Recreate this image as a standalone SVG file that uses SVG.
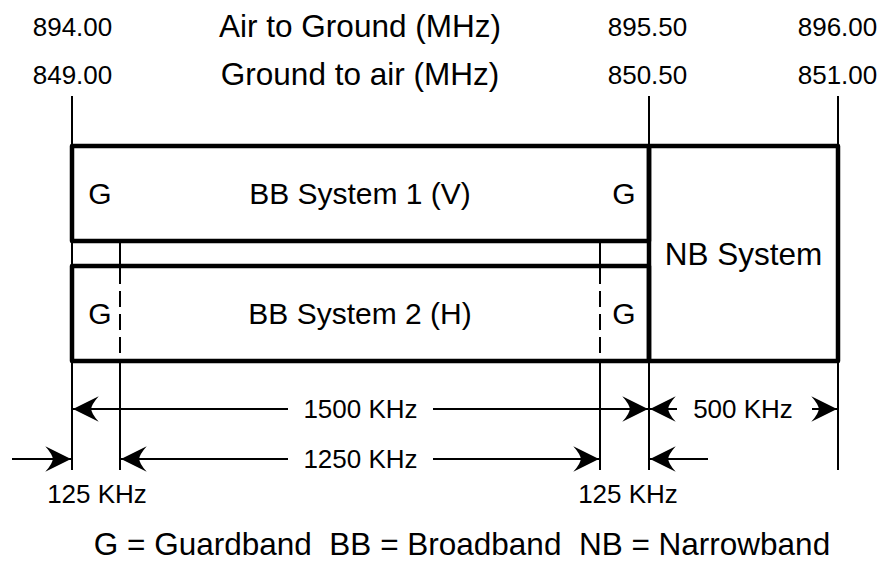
<svg xmlns="http://www.w3.org/2000/svg" width="883" height="566" viewBox="0 0 883 566">
<style>
text{font-family:"Liberation Sans",Arial,sans-serif;fill:#000}
.num{font-size:26px;text-anchor:middle}
.ttl{font-size:31.5px;text-anchor:middle}
.lbl{font-size:30px;text-anchor:middle}
.leg{white-space:pre}
.thin{stroke:#000;stroke-width:2;fill:none}
.box{stroke:#000;stroke-width:4.5;fill:none;stroke-linejoin:round}
.arr{stroke:#000;stroke-width:2;fill:none;marker-end:url(#ah)}
</style>
<defs>
<marker id="ah" markerUnits="userSpaceOnUse" markerWidth="30" markerHeight="30" refX="0" refY="0" viewBox="-26 -14 28 28" orient="auto" overflow="visible">
<path d="M0,0 L-24,-12 Q-17,-4 -17,0 Q-17,4 -24,12 Z" fill="#000"/>
</marker>
</defs>
<rect width="883" height="566" fill="#fff"/>

<g id="header">
<text class="num" x="72.5" y="36">894.00</text>
<text class="ttl" x="360" y="36.5">Air to Ground (MHz)</text>
<text class="num" x="647.5" y="36">895.50</text>
<text class="num" x="837.5" y="36">896.00</text>
<text class="num" x="72.5" y="84">849.00</text>
<text class="ttl" x="360" y="85">Ground to air (MHz)</text>
<text class="num" x="647.5" y="84">850.50</text>
<text class="num" x="837.5" y="84">851.00</text>
</g>

<g id="connectors">
<line class="thin" x1="72" y1="96" x2="72" y2="470"/>
<line class="thin" x1="649" y1="96" x2="649" y2="470"/>
<line class="thin" x1="838" y1="96" x2="838" y2="470"/>
<line class="thin" x1="120" y1="241" x2="120" y2="266"/>
<line class="thin" x1="120" y1="268" x2="120" y2="361" stroke-dasharray="16 7"/>
<line class="thin" x1="120" y1="361" x2="120" y2="470"/>
<line class="thin" x1="600" y1="241" x2="600" y2="266"/>
<line class="thin" x1="600" y1="268" x2="600" y2="361" stroke-dasharray="16 7"/>
<line class="thin" x1="600" y1="361" x2="600" y2="470"/>

<line class="arr" x1="288" y1="409" x2="73" y2="409"/>
<line class="arr" x1="433" y1="409" x2="648" y2="409"/>
<line class="arr" x1="677" y1="409" x2="650" y2="409"/>
<line class="arr" x1="812" y1="409" x2="837" y2="409"/>

<line class="arr" x1="12" y1="459" x2="71" y2="459"/>
<line class="arr" x1="288" y1="459" x2="121" y2="459"/>
<line class="arr" x1="433" y1="459" x2="599" y2="459"/>
<line class="arr" x1="708" y1="459" x2="650" y2="459"/>
</g>

<g id="bb1">
<rect class="box" x="72" y="146" width="577" height="95"/>
<text class="lbl" x="100" y="204">G</text>
<text class="lbl" x="360" y="204">BB System 1 (V)</text>
<text class="lbl" x="624" y="204">G</text>
</g>

<g id="bb2">
<rect class="box" x="72" y="266" width="577" height="95"/>
<text class="lbl" x="100" y="324">G</text>
<text class="lbl" x="360" y="324">BB System 2 (H)</text>
<text class="lbl" x="624" y="324">G</text>
</g>

<g id="nb">
<rect class="box" x="649" y="146" width="189" height="215"/>
<text class="ttl" x="743.5" y="265">NB System</text>
</g>

<g id="dims">
<text class="num" x="360.5" y="418">1500 KHz</text>
<text class="num" x="743" y="418">500 KHz</text>
<text class="num" x="360.5" y="468">1250 KHz</text>
<text class="num" x="97" y="503">125 KHz</text>
<text class="num" x="628" y="503">125 KHz</text>
</g>

<g id="legend">
<text class="ttl leg" x="462" y="555" xml:space="preserve">G = Guardband  BB = Broadband  NB = Narrowband</text>
</g>
</svg>
